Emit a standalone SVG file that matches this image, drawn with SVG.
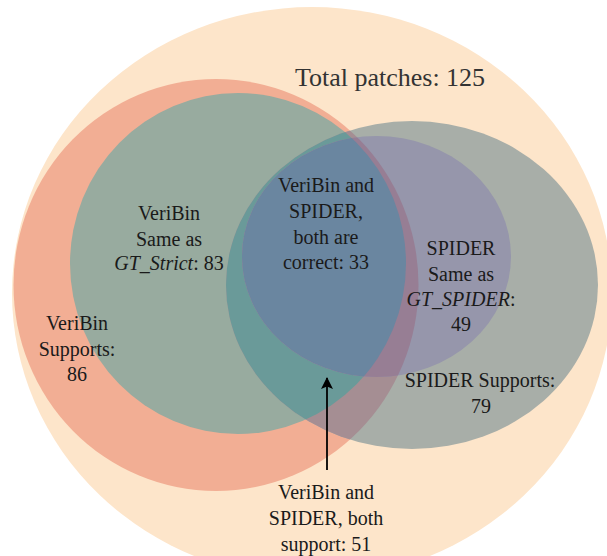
<svg xmlns="http://www.w3.org/2000/svg" width="607" height="556" viewBox="0 0 607 556">
<style>
text{font-size:20px;fill:#1a1a1a;text-anchor:middle}
.it{font-style:italic}
.big{font-size:26px;fill:#333}
</style>
<defs>
<clipPath id="cSpider"><ellipse cx="412" cy="285" rx="186" ry="164"/></clipPath>
<clipPath id="cPurple"><ellipse cx="376.5" cy="256.5" rx="134.5" ry="120.5"/></clipPath>
<marker id="ah" viewBox="0 0 12 12" refX="11" refY="6" markerWidth="12" markerHeight="12" markerUnits="userSpaceOnUse" orient="auto">
<path d="M0,0 L12,6 L0,12 L2.5,6 Z" fill="#000"/>
</marker>
</defs>
<rect width="607" height="556" fill="#fff"/>
<g id="total">
<ellipse cx="312" cy="293" rx="300" ry="286" fill="#FDE5CA"/>
</g>
<g id="veribin-supports">
<ellipse cx="216" cy="285" rx="202.5" ry="206" fill="#F2AE94"/>
</g>
<g id="veribin-same">
<ellipse cx="238" cy="263.5" rx="168" ry="170.5" fill="#98AB9F"/>
</g>
<g id="spider-supports">
<ellipse cx="412" cy="285" rx="186" ry="164" fill="#A8AEA8"/>
</g>
<g id="overlaps-supports">
<ellipse cx="216" cy="285" rx="202.5" ry="206" fill="#A58E93" clip-path="url(#cSpider)"/>
<ellipse cx="238" cy="263.5" rx="168" ry="170.5" fill="#6A9A99" clip-path="url(#cSpider)"/>
</g>
<g id="spider-same">
<ellipse cx="376.5" cy="256.5" rx="134.5" ry="120.5" fill="#9696AB"/>
</g>
<g id="overlaps-same">
<ellipse cx="216" cy="285" rx="202.5" ry="206" fill="#977E94" clip-path="url(#cPurple)"/>
<ellipse cx="238" cy="263.5" rx="168" ry="170.5" fill="#6A86A0" clip-path="url(#cPurple)"/>
</g>
<g id="labels" font-family="Liberation Serif, Times New Roman, serif">
<text class="big" x="390" y="86">Total patches: 125</text>
<text x="169" y="220">VeriBin</text>
<text x="169" y="246">Same as</text>
<text x="169" y="270"><tspan class="it">GT_Strict</tspan>: 83</text>
<text x="326" y="192">VeriBin and</text>
<text x="326" y="218">SPIDER,</text>
<text x="326" y="244">both are</text>
<text x="326" y="269">correct: 33</text>
<text x="461" y="255">SPIDER</text>
<text x="461" y="280.5">Same as</text>
<text x="461" y="306"><tspan class="it">GT_SPIDER</tspan>:</text>
<text x="461" y="331">49</text>
<text x="77" y="330">VeriBin</text>
<text x="77" y="355.5">Supports:</text>
<text x="77" y="381">86</text>
<text x="480" y="387">SPIDER Supports:</text>
<text x="481" y="413">79</text>
<text x="326" y="499">VeriBin and</text>
<text x="326" y="524.5">SPIDER, both</text>
<text x="326" y="551">support: 51</text>
</g>
<g id="connectors">
<line x1="327" y1="470" x2="327" y2="378" stroke="#000" stroke-width="1.8" marker-end="url(#ah)"/>
</g>
</svg>
